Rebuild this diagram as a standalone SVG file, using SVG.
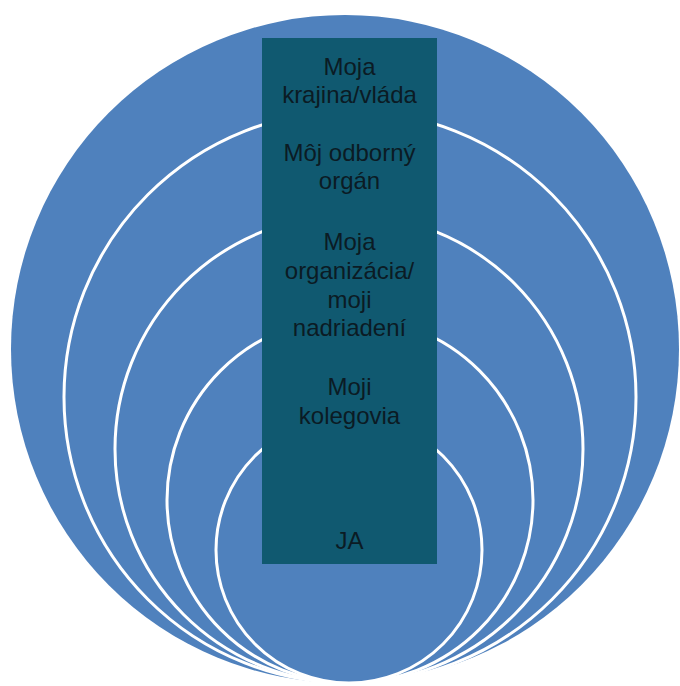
<svg xmlns="http://www.w3.org/2000/svg" width="680" height="686" viewBox="0 0 680 686">
  <style>
    .ring { fill: #4F81BD; stroke: #FFFFFF; stroke-width: 3; }
    .outer { fill: #4F81BD; }
    .panel { fill: #105970; }
    .lbl { font-family: "Liberation Sans", Arial, sans-serif; font-size: 24px; fill: #0B1B24; text-anchor: middle; }
  </style>
  <rect width="680" height="686" fill="#FFFFFF"/>
  <g id="circle-krajina">
    <circle class="outer" cx="345" cy="349" r="334"/>
  </g>
  <g id="circle-odborny-organ">
    <circle class="ring" cx="350" cy="397" r="286"/>
  </g>
  <g id="circle-organizacia">
    <circle class="ring" cx="349" cy="449" r="234"/>
  </g>
  <g id="circle-kolegovia">
    <circle class="ring" cx="350" cy="500" r="183"/>
  </g>
  <g id="circle-ja">
    <circle class="ring" cx="349" cy="550" r="133"/>
  </g>
  <g id="connectors"></g>
  <g id="label-panel">
    <rect class="panel" x="262" y="38" width="175" height="526"/>
    <text class="lbl" x="349.5" y="75">Moja</text>
    <text class="lbl" x="349.5" y="103">krajina/vláda</text>
    <text class="lbl" x="349.5" y="161">Môj odborný</text>
    <text class="lbl" x="349.5" y="189">orgán</text>
    <text class="lbl" x="349.5" y="250">Moja</text>
    <text class="lbl" x="349.5" y="279">organizácia/</text>
    <text class="lbl" x="349.5" y="308">moji</text>
    <text class="lbl" x="349.5" y="336">nadriadení</text>
    <text class="lbl" x="349.5" y="395">Moji</text>
    <text class="lbl" x="349.5" y="424">kolegovia</text>
    <text class="lbl" x="349.5" y="549">JA</text>
  </g>
</svg>
